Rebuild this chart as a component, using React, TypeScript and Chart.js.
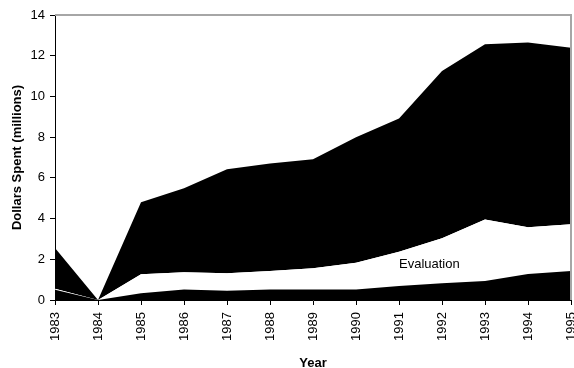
import React, { useEffect, useRef } from "react";
import { Chart, registerables } from "chart.js";

Chart.register(...registerables);

const years = ["1983","1984","1985","1986","1987","1988","1989","1990","1991","1992","1993","1994","1995"];
const bottomLayer = [0.5, 0, 0.33, 0.52, 0.46, 0.52, 0.52, 0.52, 0.69, 0.82, 0.93, 1.28, 1.42];
const evaluation = [0.05, 0, 0.93, 0.84, 0.85, 0.9, 1.04, 1.31, 1.68, 2.21, 3.03, 2.29, 2.3];
const topLayer = [2.0, 0, 3.54, 4.13, 5.11, 5.29, 5.35, 6.17, 6.55, 8.22, 8.6, 9.08, 8.67];
const yTicks = [0, 2, 4, 6, 8, 10, 12, 14];
const evalLabel = { text: "Evaluation", index: 8, value: 1.75 };

const FONT = "'Liberation Sans', Arial, Helvetica, sans-serif";

const framePlugin = {
  id: "frame",
  afterDraw(chart: any) {
    const { ctx, chartArea } = chart;
    ctx.save();
    ctx.strokeStyle = "#a6a6a6";
    ctx.lineWidth = 2;
    ctx.beginPath();
    ctx.moveTo(chartArea.left, chartArea.top);
    ctx.lineTo(chartArea.right, chartArea.top);
    ctx.lineTo(chartArea.right, chartArea.bottom);
    ctx.stroke();
    ctx.fillStyle = "#000";
    ctx.font = `13px ${FONT}`;
    ctx.textAlign = "left";
    ctx.textBaseline = "middle";
    const x = chart.scales.x.getPixelForValue(evalLabel.index);
    const y = chart.scales.y.getPixelForValue(evalLabel.value);
    ctx.fillText(evalLabel.text, x, y);
    ctx.restore();
  },
};

export default function App() {
  const ref = useRef<HTMLCanvasElement>(null);
  useEffect(() => {
    document.body.style.margin = "0";
    const chart = new Chart(ref.current!, {
      type: "line",
      data: {
        labels: years,
        datasets: [
          { label: "Other", data: bottomLayer, fill: "origin", backgroundColor: "#000", borderWidth: 0, pointRadius: 0, tension: 0 },
          { label: "Evaluation", data: evaluation, fill: "-1", backgroundColor: "#fff", borderWidth: 0, pointRadius: 0, tension: 0 },
          { label: "Top", data: topLayer, fill: "-1", backgroundColor: "#000", borderWidth: 0, pointRadius: 0, tension: 0 },
        ],
      },
      options: {
        animation: false,
        responsive: false,
        layout: { padding: { top: 15, right: 3, left: 0, bottom: 0 } },
        plugins: { legend: { display: false }, tooltip: { enabled: false } },
        scales: {
          x: {
            offset: false,
            grid: { drawOnChartArea: false, color: "#000", tickLength: 5, tickColor: "#000" },
            border: { color: "#000", width: 1 },
            ticks: { color: "#000", font: { size: 13, family: FONT }, minRotation: 90, maxRotation: 90, padding: 7, autoSkip: false },
            title: { display: true, text: "Year", color: "#000", font: { size: 13, weight: "bold", family: FONT }, padding: { top: 0, bottom: -3 } },
            afterFit(scale: any) {
              scale.height = 68;
              scale.paddingLeft = 0;
              scale.paddingRight = 0;
            },
          },
          y: {
            stacked: true,
            min: 0,
            max: 14,
            afterBuildTicks(scale: any) {
              scale.ticks = yTicks.map((v) => ({ value: v }));
            },
            grid: { drawOnChartArea: false, color: "#000", tickLength: 5, tickColor: "#000" },
            border: { color: "#000", width: 1 },
            ticks: { color: "#000", font: { size: 13, family: FONT }, padding: 5 },
            title: { display: true, text: "Dollars Spent (millions)", color: "#000", font: { size: 13, weight: "bold", family: FONT }, padding: { top: 10, bottom: 0 } },
            afterFit(scale: any) {
              scale.width = 55;
              scale.paddingTop = 0;
              scale.paddingBottom = 0;
            },
          },
        },
      },
      plugins: [framePlugin],
    });
    return () => chart.destroy();
  }, []);
  return (
    <div style={{ position: "absolute", left: 0, top: 0, width: 574, height: 368 }}>
      <canvas ref={ref} width={574} height={368} style={{ width: 574, height: 368 }} />
    </div>
  );
}
